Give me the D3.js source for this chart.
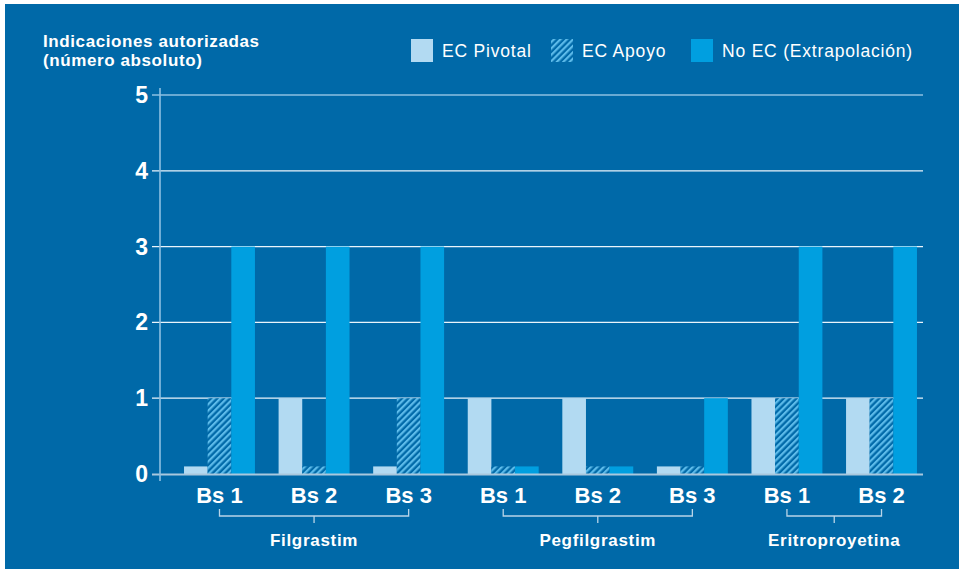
<!DOCTYPE html>
<html><head><meta charset="utf-8">
<script src="https://cdn.jsdelivr.net/npm/d3@7"></script>
<style>
html,body{margin:0;padding:0;background:#fff;}
svg{display:block;}
text{font-family:"Liberation Sans",Arial,sans-serif;fill:#fff;}
</style></head>
<body>
<svg id="c" width="959" height="569"></svg>
<script>
const categories = ["Bs 1","Bs 2","Bs 3","Bs 1","Bs 2","Bs 3","Bs 1","Bs 2"];
const groupNames = ["Filgrastim","Pegfilgrastim","Eritroproyetina"];
const groupOf = [0,0,0,1,1,1,2,2];
const seriesNames = ["EC Pivotal","EC Apoyo","No EC (Extrapolación)"];
const pivotal = [0.1,1,0.1,1,1,0.1,1,1];
const apoyo   = [1,0.1,1,0.1,0.1,0.1,1,1];
const noEC    = [3,3,3,0.1,0.1,1,3,3];
const yTicks = [0,1,2,3,4,5];

const svg = d3.select("#c");
const W = 959, H = 569;
const bg = "#0069A8", light = "#B2DAF2", bright = "#009FE0", hatch = "#5DBBEA";

const defs = svg.append("defs");
const pat = defs.append("pattern").attr("id","hatch").attr("patternUnits","userSpaceOnUse")
  .attr("width",4.5).attr("height",4.5).attr("patternTransform","rotate(45)");
pat.append("rect").attr("width",4.5).attr("height",4.5).attr("fill",bg);
pat.append("rect").attr("width",2.2).attr("height",4.5).attr("fill",hatch);

svg.append("rect").attr("x",5).attr("y",4).attr("width",W-5).attr("height",H-4).attr("fill",bg);

const x0 = d3.scaleBand().domain(d3.range(categories.length)).range([172.2,928.8])
  .paddingInner(0.25).paddingOuter(0.125);
const x1 = d3.scaleBand().domain([0,1,2]).range([0,x0.bandwidth()]);
const y = d3.scaleLinear().domain([0,5]).range([474,95]);

// gridlines
const gridX0 = 152, gridX1 = 923;
svg.append("g").selectAll("line").data(yTicks.filter(d=>d>0)).join("line")
  .attr("x1",gridX0).attr("x2",gridX1).attr("y1",d=>y(d)).attr("y2",d=>y(d))
  .attr("stroke",d=>d===5?"#8DC0E2":"#EAF4FB").attr("stroke-width",1.3);

// y labels
svg.append("g").selectAll("text").data(yTicks).join("text")
  .attr("x",148).attr("y",d=>y(d)+8).attr("text-anchor","end")
  .attr("font-size",23).attr("font-weight","bold").text(d=>d);

// bars
const series = [pivotal, apoyo, noEC];
const fills = [light, "url(#hatch)", bright];
series.forEach((vals,si)=>{
  svg.append("g").selectAll("rect").data(vals).join("rect")
    .attr("x",(d,i)=>x0(i)+x1(si)).attr("width",x1.bandwidth())
    .attr("y",d=>y(d)).attr("height",d=>y(0)-y(d)).attr("fill",fills[si]);
});

// zero line and vertical axis
svg.append("line").attr("x1",gridX0).attr("x2",gridX1).attr("y1",y(0)+0.5).attr("y2",y(0)+0.5)
  .attr("stroke","#A9C8DD").attr("stroke-width",2);
svg.append("line").attr("x1",160).attr("x2",160).attr("y1",88).attr("y2",481)
  .attr("stroke","#8DC0E2").attr("stroke-width",1.6);

// category labels
svg.append("g").selectAll("text").data(categories).join("text")
  .attr("x",(d,i)=>x0(i)+x0.bandwidth()/2).attr("y",503).attr("text-anchor","middle")
  .attr("font-size",22).attr("font-weight","bold").text(d=>d);

// group brackets
groupNames.forEach((g,gi)=>{
  const idx = d3.range(categories.length).filter(i=>groupOf[i]===gi);
  const a = x0(idx[0])+x0.bandwidth()/2, b = x0(idx[idx.length-1])+x0.bandwidth()/2;
  const m = (a+b)/2;
  svg.append("path").attr("d",`M${a},509V516H${b}V509M${m},516V523`)
    .attr("fill","none").attr("stroke","#B8D4E8").attr("stroke-width",1.3);
  svg.append("text").attr("x",m).attr("y",546).attr("text-anchor","middle")
    .attr("font-size",17).attr("font-weight","bold").attr("letter-spacing",0.7).text(g);
});

// title
svg.append("text").attr("x",43).attr("y",47).attr("font-size",17).attr("font-weight","bold")
  .attr("letter-spacing",0.6).text("Indicaciones autorizadas");
svg.append("text").attr("x",43).attr("y",66).attr("font-size",17).attr("font-weight","bold")
  .attr("letter-spacing",0.6).text("(número absoluto)");

// legend
const legX = [411,551,691];
const legFill = [light,"url(#hatch)",bright];
seriesNames.forEach((s,i)=>{
  svg.append("rect").attr("x",legX[i]).attr("y",39).attr("width",22).attr("height",23).attr("fill",legFill[i]);
  svg.append("text").attr("x",legX[i]+31).attr("y",57).attr("font-size",17.5)
    .attr("letter-spacing",0.8).text(s);
});
</script>
</body></html>
